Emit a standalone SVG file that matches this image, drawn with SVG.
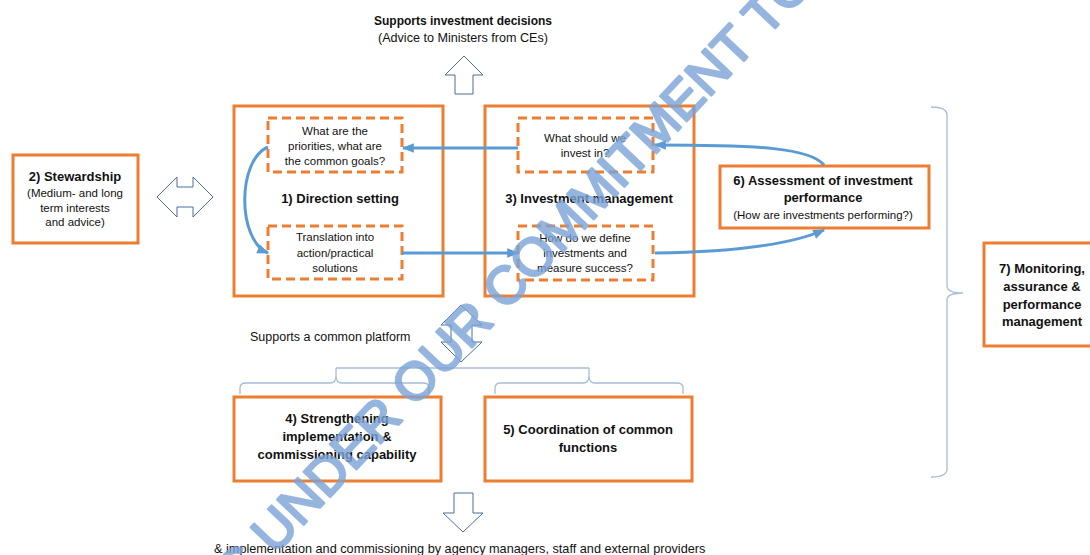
<svg xmlns="http://www.w3.org/2000/svg" width="1090" height="555" viewBox="0 0 1090 555">
<defs>
<style>
.box{fill:#fff;stroke:#ED7D31;stroke-width:3}
.dash{fill:#fff;stroke:#ED7D31;stroke-width:3;stroke-dasharray:9 5}
.blk{fill:#fff;stroke:#4A6F9C;stroke-width:1}
.brace{fill:none;stroke:#A6BDD7;stroke-width:1.3}
.conn{fill:none;stroke:#5B9BD5;stroke-width:3}
text{font-family:"Liberation Sans",Arial,sans-serif;fill:#111;text-anchor:middle}
.b{font-weight:bold;font-size:13px}
.s{font-size:11.5px}
.m{font-size:12.6px}
.wm{font-family:"Liberation Sans",Arial,sans-serif;font-size:53px;fill:#7BA3D8;stroke:#7BA3D8;stroke-width:2.5;stroke-linejoin:round;text-anchor:start;opacity:0.8}
</style>
<marker id="ah" viewBox="0 0 10 8" refX="9" refY="4" markerWidth="12" markerHeight="10" markerUnits="userSpaceOnUse" orient="auto">
<path d="M0,0 L10,4 L0,8 z" fill="#5B9BD5"/>
</marker>
</defs>
<rect width="1090" height="555" fill="#fff"/>

<g id="top-label">
<text x="463" y="25" style="font-weight:bold;font-size:12px">Supports investment decisions</text>
<text x="463" y="42" class="m">(Advice to Ministers from CEs)</text>
<path class="blk" d="M464 56 L483 75 L473 75 L473 94 L455 94 L455 75 L445 75 Z"/>
</g>

<g id="stewardship">
<rect class="box" x="13" y="155" width="125" height="88"/>
<text x="75" y="181" class="b">2) Stewardship</text>
<text x="75" y="197" class="s">(Medium- and long</text>
<text x="75" y="212" class="s">term interests</text>
<text x="75" y="226" class="s">and advice)</text>
</g>
<g id="double-arrow-h">
<path class="blk" d="M157 197 L177 177 L177 187 L193 187 L193 177 L213 197 L193 217 L193 207 L177 207 L177 217 Z"/>
</g>

<g id="direction-setting">
<rect class="box" x="234" y="106" width="209" height="190"/>
<rect class="dash" x="268" y="118" width="134" height="54"/>
<text x="335" y="135" class="s">What are the</text>
<text x="335" y="150" class="s">priorities, what are</text>
<text x="335" y="165" class="s">the common goals?</text>
<text x="340" y="203" class="b">1) Direction setting</text>
<rect class="dash" x="268" y="226" width="134" height="53"/>
<text x="335" y="241" class="s">Translation into</text>
<text x="335" y="257" class="s">action/practical</text>
<text x="335" y="272" class="s">solutions</text>
</g>

<g id="investment-management">
<rect class="box" x="485" y="106" width="209" height="190"/>
<rect class="dash" x="518" y="118" width="135" height="54"/>
<text x="585" y="142" class="s">What should we</text>
<text x="585" y="157" class="s">invest in?</text>
<text x="589" y="203" class="b">3) Investment management</text>
<rect class="dash" x="518" y="226" width="135" height="54"/>
<text x="585" y="242" class="s">How do we define</text>
<text x="585" y="257" class="s">investments and</text>
<text x="585" y="272" class="s">measure success?</text>
</g>

<g id="assessment">
<rect class="box" x="720" y="166" width="209" height="62"/>
<text x="823" y="185" class="b">6) Assessment of investment</text>
<text x="823" y="202" class="b">performance</text>
<text x="823" y="219" class="s">(How are investments performing?)</text>
</g>

<g id="monitoring">
<rect class="box" x="984" y="243" width="112" height="103"/>
<text x="1042" y="273" class="b">7) Monitoring,</text>
<text x="1042" y="291" class="b">assurance &amp;</text>
<text x="1042" y="309" class="b">performance</text>
<text x="1042" y="326" class="b">management</text>
</g>

<g id="common-platform">
<text x="250" y="341" style="font-size:12.5px;text-anchor:start">Supports a common platform</text>
<path class="blk" d="M461 305 L482 325 L472 325 L472 342 L482 342 L461 362 L441 342 L451 342 L451 325 L441 325 Z"/>
</g>

<g id="strengthening">
<rect class="box" x="234" y="397" width="207" height="84"/>
<text x="337" y="423" class="b">4) Strengthening</text>
<text x="337" y="441" class="b">implementation &amp;</text>
<text x="337" y="459" class="b">commissioning  capability</text>
</g>

<g id="coordination">
<rect class="box" x="485" y="397" width="207" height="84"/>
<text x="588" y="434" class="b">5) Coordination  of common</text>
<text x="588" y="452" class="b">functions</text>
</g>

<g id="bottom-label">
<path class="blk" d="M454 493 L473 493 L473 513 L483 513 L463 532 L443 513 L454 513 Z"/>
<text x="214" y="553" style="font-size:12.7px;text-anchor:start">&amp; implementation and commissioning by agency managers, staff and external providers</text>
</g>

<g id="braces">
<path class="brace" d="M336 368 L589 368"/>
<path class="brace" d="M240 394 L240 388 Q240 383 246 383 L330 383 Q336 383 336 376 L336 368 M336 376 Q336 383 342 383 L423 383 Q429 383 429 388 L429 394"/>
<path class="brace" d="M495 394 L495 388 Q495 383 501 383 L583 383 Q589 383 589 376 L589 368 M589 376 Q589 383 595 383 L677 383 Q683 383 683 388 L683 394"/>
<path class="brace" d="M931 107 Q947 107 947 115 L947 286 Q947 293 963 293 Q947 293 947 300 L947 469 Q947 477 931 477"/>
</g>

<g id="connectors">
<path class="conn" marker-end="url(#ah)" d="M518 148 L403 148"/>
<path class="conn" marker-end="url(#ah)" d="M824 165 C 810 148, 760 145, 655 145"/>
<path class="conn" marker-end="url(#ah)" d="M402 253 L518 253"/>
<path class="conn" marker-end="url(#ah)" d="M655 253 C 730 252, 790 245, 824 230"/>
<path class="conn" marker-end="url(#ah)" d="M268 147 C 237 160, 237 240, 268 253"/>
</g>

<g id="watermark">
<text class="wm" transform="translate(238,594) rotate(-46.5)">C UNDER OUR COMMITMENT TO O</text>
</g>
</svg>
